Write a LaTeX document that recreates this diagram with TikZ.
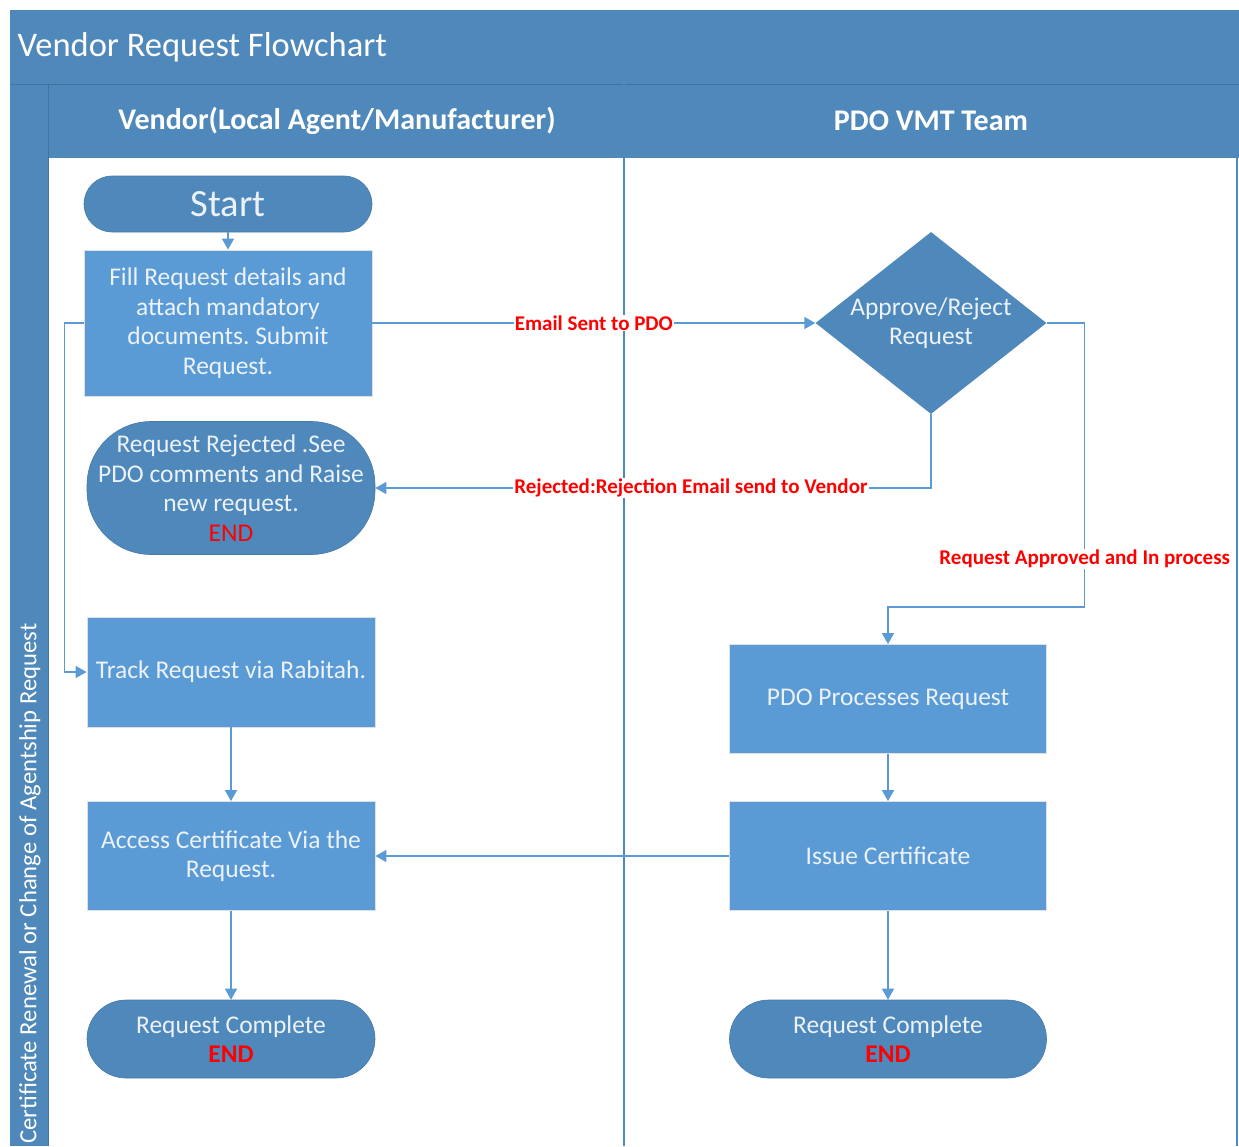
\documentclass[tikz,border=0pt]{standalone}
\usepackage{fontspec}
\setmainfont{Carlito}
\frenchspacing
\usetikzlibrary{arrows.meta,positioning,shapes.geometric}
\definecolor{lanedark}{RGB}{79,136,187}
\definecolor{boxblue}{RGB}{91,155,213}
\definecolor{boxtext}{RGB}{236,242,250}
\definecolor{flowred}{RGB}{255,0,0}

\begin{document}
\begin{tikzpicture}[x=1pt,y=-1pt,
    procbox/.style={rectangle, fill=boxblue, draw=black!12, line width=0.8pt, text=boxtext,
      minimum width=288, align=center, inner sep=2pt, font=\fontsize{25.5}{29.5}\selectfont},
    endbox/.style={rectangle, fill=lanedark, draw=lanedark!90!black, line width=0.6pt, text=boxtext,
      minimum width=288, align=center, inner sep=2pt, font=\fontsize{25.5}{29.5}\selectfont},
    decision/.style={diamond, fill=lanedark, minimum width=231, minimum height=182, inner sep=0pt},
    decisiontext/.style={text=boxtext, align=center, font=\fontsize{25.5}{29.5}\selectfont},
    flow/.style={draw=boxblue, line width=1.4pt, -{Triangle[length=11pt,width=12pt]}},
    flowlabel/.style={fill=white, text=flowred, inner sep=1pt, font=\fontsize{21}{24}\selectfont\bfseries}]
        \useasboundingbox (0,0) rectangle (1239,1146);
        % swimlane frame
        \fill[lanedark] (10,10) rectangle (1239,84);
        \fill[lanedark] (10,84) rectangle (48,1146);
        \fill[lanedark] (48,84) rectangle (1239,158);
        \draw[lanedark!85!black, line width=1pt] (10,84) -- (1239,84);
        \draw[lanedark!85!black, line width=0.8pt] (48,84) -- (48,1146);
        \draw[lanedark, line width=1.5pt] (624,84) -- (624,1146);
        \draw[lanedark, line width=1.5pt] (1237,158) -- (1237,1146);
        \node[anchor=west, text=white, font=\fontsize{34.5}{40}\selectfont] (title) at (14,47) {Vendor Request Flowchart};
        \node[text=white, font=\fontsize{30}{35}\selectfont\bfseries] (vendorhead) at (337,121) {Vendor(Local Agent/Manufacturer)};
        \node[text=white, font=\fontsize{30}{35}\selectfont\bfseries] (pdohead) at (931,121) {PDO VMT Team};
        \node[rotate=90, anchor=west, text=white, inner sep=2pt, font=\fontsize{24.7}{29}\selectfont] (lanelabel) at (30,1146) {Certificate Renewal or Change of Agentship Request};

        % vendor lane
        \node[endbox, minimum height=56, rounded corners=28, font=\fontsize{38.5}{44}\selectfont] (start) at (228,204) {Start};
        \node[procbox, minimum height=146] (fill) at (228,323) {Fill Request details and\\attach mandatory\\documents. Submit\\Request.};
        \node[endbox, minimum height=133, rounded corners=64] (reject) at (231,488) {Request Rejected .See\\PDO comments and Raise\\new request.\\{\color{flowred}END}};
        \node[procbox, minimum height=110] (track) at (231,672) {Track Request via Rabitah.};
        \node[procbox, minimum height=109] (access) at (231,856) {Access Certificate Via the\\Request.};
        \node[endbox, minimum height=78, rounded corners=39] (doneleft) at (231,1039) {Request Complete\\{\color{flowred}\bfseries END}};

        % PDO lane
        \node[decision, label={[decisiontext]center:Approve/Reject\\Request}] (decide) at (931,323) {};
        \node[procbox, minimum width=317, minimum height=109] (pdo) at (888,699) {PDO Processes Request};
        \node[procbox, minimum width=317, minimum height=109] (issue) at (888,856) {Issue Certificate};
        \node[endbox, minimum width=317, minimum height=78, rounded corners=39] (doneright) at (888,1039) {Request Complete\\{\color{flowred}\bfseries END}};

        % connectors
        \draw[flow] (start) -- (fill);
        \draw[flow] (fill.east) -- node[flowlabel] {Email Sent to PDO} (decide.west);
        \draw[flow] (fill.west) -- ++(-19,0) |- (track.west);
        \draw[flow] (decide.south) |- node[flowlabel, pos=0.716] {Rejected:Rejection Email send to Vendor} (reject.east);
        \draw[flow] (decide.east) -- ++(38,0) -- node[flowlabel, pos=0.83] {Request Approved and In process} ++(0,284) -| (pdo.north);
        \draw[flow] (track) -- (access);
        \draw[flow] (access) -- (doneleft);
        \draw[flow] (pdo) -- (issue);
        \draw[flow] (issue.west) -- (access.east);
        \draw[flow] (issue) -- (doneright);
\end{tikzpicture}
\end{document}
